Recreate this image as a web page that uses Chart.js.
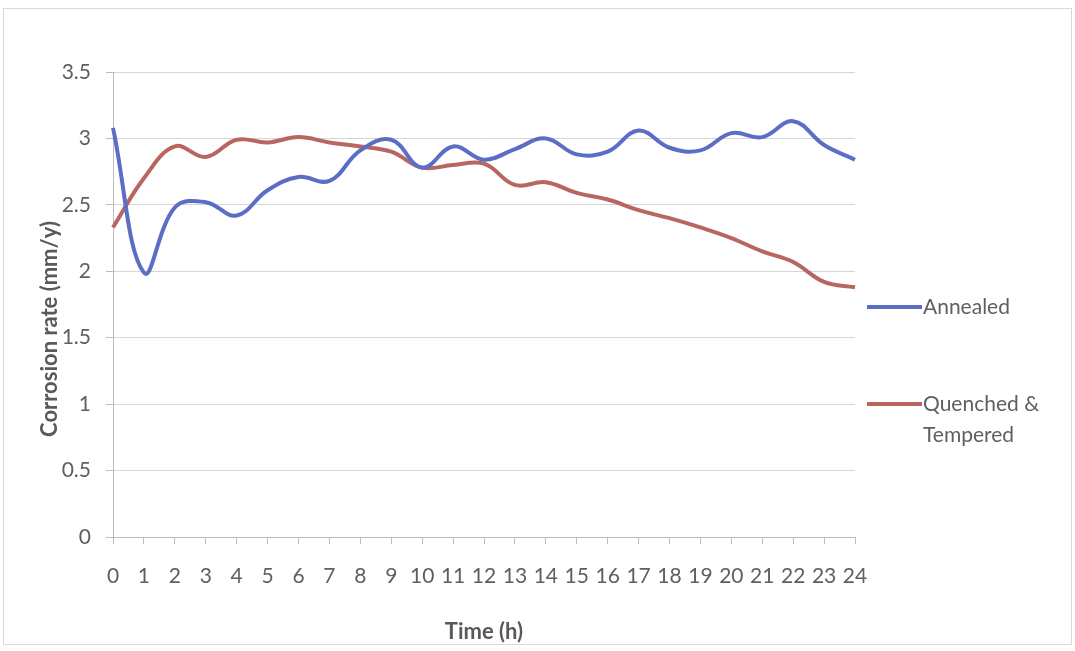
<!DOCTYPE html>
<html>
<head>
<meta charset="utf-8">
<title>Corrosion rate vs time</title>
<script src="https://cdn.jsdelivr.net/npm/chart.js@4.4.1/dist/chart.umd.min.js"></script>
<style>
  html, body { margin: 0; padding: 0; background: #ffffff; }
  #wrap { position: relative; width: 1075px; height: 651px; overflow: hidden; }
  #c { position: absolute; left: 0; top: 0; }
  #frame {
    position: absolute; left: 3px; top: 8px; width: 1069px; height: 637px;
    border: 1px solid #d9d9d9; box-sizing: border-box; pointer-events: none;
  }
</style>
</head>
<body>
<div id="wrap">
  <canvas id="c" width="1075" height="651"></canvas>
  <div id="frame"></div>
</div>
<script>
// Immersion time in hours
const hours = ['0','1','2','3','4','5','6','7','8','9','10','11','12','13','14','15','16','17','18','19','20','21','22','23','24'];

// Corrosion rate (mm/y) for each heat treatment
const annealed = [3.08, 1.99, 2.48, 2.52, 2.42, 2.61, 2.71, 2.68, 2.91, 2.99, 2.78, 2.94, 2.84,
                  2.92, 3.00, 2.88, 2.90, 3.06, 2.93, 2.91, 3.04, 3.01, 3.13, 2.95, 2.84];
const quenched = [2.33, 2.70, 2.94, 2.86, 2.99, 2.97, 3.01, 2.97, 2.94, 2.90, 2.78, 2.80, 2.81,
                  2.65, 2.67, 2.59, 2.54, 2.46, 2.40, 2.33, 2.25, 2.15, 2.07, 1.92, 1.88];

const seriesNames = ['Annealed', 'Quenched & Tempered'];
const yAxisTitle = 'Corrosion rate (mm/y)';
const xAxisTitle = 'Time (h)';
const yMin = 0, yMax = 3.5, yStep = 0.5;

const FONT = 'Lato, "Open Sans", "DejaVu Sans", sans-serif';
const TEXT = '#5f5f5f';
const TITLE = '#595959';
const AXIS = '#bcbcbc';
const GRID = '#d6d6d6';

// Rotated y-axis title, placed beside the tick labels
const yTitlePlugin = {
  id: 'yTitle',
  afterDraw(chart) {
    const ctx = chart.ctx;
    ctx.save();
    ctx.translate(50, 329);
    ctx.rotate(-Math.PI / 2);
    ctx.font = 'bold 22px ' + FONT;
    ctx.fillStyle = TITLE;
    ctx.textAlign = 'center';
    ctx.textBaseline = 'middle';
    ctx.fillText(yAxisTitle, 0, 0);
    ctx.restore();
  }
};

// Legend to the right of the plot: a line sample and wrapped label per series
const sideLegend = {
  id: 'sideLegend',
  afterDraw(chart) {
    const ctx = chart.ctx;
    const rows = [307, 404];
    const lineH = 31;
    const maxW = 125;
    ctx.save();
    ctx.font = '21px ' + FONT;
    ctx.textBaseline = 'middle';
    ctx.textAlign = 'left';
    chart.data.datasets.forEach((ds, i) => {
      const y = rows[i];
      ctx.strokeStyle = ds.borderColor;
      ctx.lineWidth = 4;
      ctx.beginPath();
      ctx.moveTo(867, y);
      ctx.lineTo(922, y);
      ctx.stroke();
      // simple word wrap
      const words = ds.label.split(' ');
      const lines = [];
      let cur = '';
      words.forEach(w => {
        const test = cur ? cur + ' ' + w : w;
        if (cur && ctx.measureText(test).width > maxW) { lines.push(cur); cur = w; }
        else cur = test;
      });
      if (cur) lines.push(cur);
      ctx.fillStyle = TEXT;
      lines.forEach((t, k) => ctx.fillText(t, 923, y + k * lineH));
    });
    ctx.restore();
  }
};

function build() {
  new Chart(document.getElementById('c'), {
    type: 'line',
    data: {
      labels: hours,
      datasets: [
        {
          label: seriesNames[0],
          data: annealed,
          borderColor: '#5b6ec6',
          backgroundColor: '#5b6ec6',
          borderWidth: 4,
          pointRadius: 0,
          tension: 0.4,
          fill: false
        },
        {
          label: seriesNames[1],
          data: quenched,
          borderColor: '#b8665f',
          backgroundColor: '#b8665f',
          borderWidth: 4,
          pointRadius: 0,
          tension: 0.4,
          fill: false
        }
      ]
    },
    options: {
      responsive: false,
      animation: false,
      events: [],
      layout: { padding: { left: 0, top: 72, right: 220, bottom: 0 } },
      plugins: {
        legend: { display: false },
        tooltip: { enabled: false },
        title: { display: false }
      },
      scales: {
        x: {
          type: 'category',
          offset: false,
          afterFit(scale) { scale.height = 114; },
          grid: {
            drawOnChartArea: false,
            drawTicks: true,
            tickLength: 7,
            color: AXIS,
            tickColor: AXIS
          },
          border: { display: true, color: AXIS, width: 1 },
          ticks: {
            autoSkip: false,
            maxRotation: 0,
            minRotation: 0,
            padding: 20,
            color: TEXT,
            font: { family: FONT, size: 21 }
          },
          title: {
            display: true,
            text: xAxisTitle,
            color: TITLE,
            font: { family: FONT, size: 22, weight: 'bold' },
            padding: { top: 0, bottom: 6 }
          }
        },
        y: {
          min: yMin,
          max: yMax,
          afterFit(scale) { scale.width = 113; },
          grid: {
            color: GRID,
            lineWidth: 1,
            drawTicks: true,
            tickLength: 7,
            tickColor: AXIS
          },
          border: { display: true, color: AXIS, width: 1 },
          ticks: {
            stepSize: yStep,
            padding: 15,
            color: TEXT,
            font: { family: FONT, size: 21 },
            callback: (v) => String(Math.round(v * 10) / 10)
          }
        }
      }
    },
    plugins: [yTitlePlugin, sideLegend]
  });
}

if (document.fonts && document.fonts.load) {
  Promise.all([
    document.fonts.load('21px Lato'),
    document.fonts.load('bold 22px Lato')
  ]).then(build, build);
} else {
  build();
}
</script>
</body>
</html>
